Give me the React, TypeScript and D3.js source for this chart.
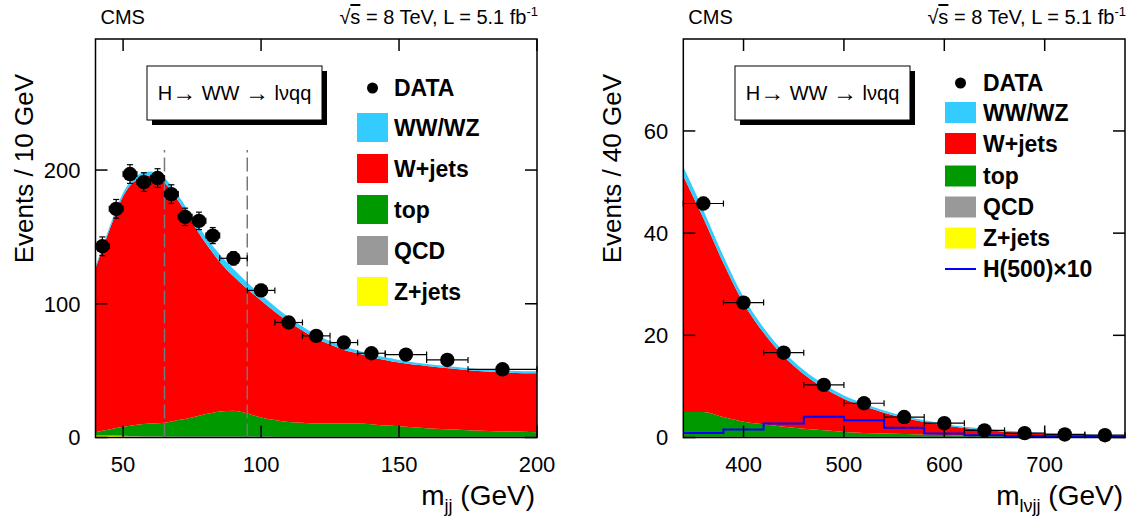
import React from 'react';
import * as d3 from 'd3';

const FONT = "'Liberation Sans', Arial, Helvetica, sans-serif";

// ---------- Left panel: m_jj ----------
const mjjGrid = [40, 45, 50, 55, 60, 65, 70, 75, 80, 85, 90, 95, 100, 105, 110, 115, 120, 125, 130, 135, 140, 145, 150, 160, 170, 180, 190, 200];
const mjjWWWZ = [1.5, 2, 2.5, 3, 3, 3.5, 4, 4.5, 5, 5.5, 5.5, 5, 4.5, 4, 3.5, 3, 3, 2.5, 2.5, 2, 2, 2, 2, 1.5, 1.5, 1.5, 1.5, 1.5];
const mjjWjets = [122.5, 149, 172.5, 183.5, 185.5, 179.5, 164, 145.5, 127.5, 112, 100.5, 93, 87.5, 81, 75, 69, 63.5, 59, 55, 52.5, 50, 49, 47.5, 46.5, 45.5, 44.5, 44, 44];
const mjjTop = [2.5, 4.5, 6.7, 8.4, 9.6, 10.2, 12.3, 14.3, 16.8, 18.8, 19.3, 17.3, 14.3, 12.4, 10.9, 10.4, 9.9, 9.9, 9.9, 9.9, 9.4, 8.4, 7.9, 6.4, 5.4, 4.4, 3.9, 3.4];
const mjjQCD = [0.3, 0.3, 0.3, 0.3, 0.3, 0.3, 0.3, 0.3, 0.3, 0.3, 0.3, 0.3, 0.3, 0.3, 0.3, 0.3, 0.3, 0.3, 0.3, 0.3, 0.3, 0.3, 0.3, 0.3, 0.3, 0.3, 0.3, 0.3];
const mjjZjets = [1.2, 1.2, 1.0, 0.8, 0.6, 0.5, 0.4, 0.4, 0.4, 0.4, 0.4, 0.4, 0.4, 0.3, 0.3, 0.3, 0.3, 0.3, 0.3, 0.3, 0.3, 0.3, 0.3, 0.3, 0.3, 0.3, 0.3, 0.3];

const mjjDataLo = [40, 45, 50, 55, 60, 65, 70, 75, 80, 85, 95, 105, 115, 125, 135, 145, 160, 175];
const mjjDataHi = [45, 50, 55, 60, 65, 70, 75, 80, 85, 95, 105, 115, 125, 135, 145, 160, 175, 200];
const mjjDataVal = [143, 171, 197, 191, 194, 182, 165, 162, 151, 134, 110, 86, 76, 71, 63, 62, 58, 51];
const mjjDataErr = [7, 7, 7, 7, 7, 7, 6.5, 6.5, 6, 5, 4.5, 4, 3.5, 3.5, 3.5, 3, 3, 2.5];
const mjjCuts = [65, 95];
const mjjXTicks = [50, 100, 150, 200];
const mjjYTicks = [0, 100, 200];

// ---------- Right panel: m_lvjj ----------
const mlvjjGrid = [340, 360, 380, 400, 420, 440, 460, 480, 500, 520, 540, 560, 580, 600, 620, 640, 660, 680, 700, 720, 740, 760, 780];
const mlvjjWWWZ = [1.8, 1.6, 1.4, 1.2, 1.0, 0.9, 0.8, 0.7, 0.6, 0.5, 0.45, 0.4, 0.35, 0.3, 0.25, 0.2, 0.2, 0.15, 0.15, 0.1, 0.1, 0.1, 0.1];
const mlvjjWjets = [46.2, 37.9, 30.1, 23.2, 17.9, 13.8, 10.7, 8.3, 6.5, 5.2, 4.05, 3.1, 2.45, 1.9, 1.4, 1.1, 0.8, 0.65, 0.5, 0.45, 0.3, 0.25, 0.2];
const mlvjjTop = [4.85, 4.85, 3.85, 2.95, 2.45, 1.95, 1.55, 1.25, 0.95, 0.75, 0.65, 0.55, 0.45, 0.35, 0.3, 0.25, 0.2, 0.15, 0.1, 0.05, 0.05, 0, 0];
const mlvjjQCD = [0.05, 0.05, 0.05, 0.05, 0.05, 0.05, 0.05, 0.05, 0.05, 0.05, 0.05, 0.05, 0.05, 0.05, 0.05, 0.05, 0.05, 0.05, 0.05, 0.05, 0.05, 0.05, 0.05];
const mlvjjZjets = [0.1, 0.1, 0.1, 0.1, 0.1, 0.1, 0.1, 0.1, 0.1, 0.1, 0.1, 0.1, 0.1, 0.1, 0.1, 0.1, 0.1, 0.1, 0.1, 0.1, 0.1, 0.1, 0.1];

const mlvjjDataCenter = [360, 400, 440, 480, 520, 560, 600, 640, 680, 720, 760];
const mlvjjDataVal = [45.8, 26.4, 16.6, 10.3, 6.7, 4.0, 2.8, 1.4, 0.85, 0.6, 0.45];
const mlvjjDataErr = [1.2, 0.9, 0.7, 0.6, 0.5, 0.4, 0.35, 0.25, 0.2, 0.15, 0.15];
const mlvjjBinHalf = 20;
const higgsEdges = [340, 380, 420, 460, 500, 540, 580, 620, 660, 700, 740, 780];
const higgsVal = [0.9, 1.55, 2.75, 4.05, 3.4, 1.9, 0.8, 0.45, 0.3, 0.2, 0.15];
const mlvjjXTicks = [400, 500, 600, 700];
const mlvjjYTicks = [0, 20, 40, 60];

const legendLabels = ['WW/WZ', 'W+jets', 'top', 'QCD', 'Z+jets'];
const legendKeys = ['wwwz', 'wjets', 'top', 'qcd', 'zjets'];
const COLORS: Record<string, string> = {
  wwwz: '#33ccff',
  wjets: '#ff0000',
  top: '#009900',
  qcd: '#999999',
  zjets: '#ffff00',
};
const STACK_KEYS = ['zjets', 'qcd', 'top', 'wjets', 'wwwz'];

type PanelProps = {
  id: string;
  px0: number; px1: number; py0: number; py1: number;
  xDomain: [number, number]; yMax: number;
  grid: number[];
  comps: Record<string, number[]>;
  dataX: number[]; dataLo: number[]; dataHi: number[]; dataVal: number[]; dataErr: number[];
  xTicks: number[]; yTicks: number[];
  cuts?: number[];
  higgs?: { edges: number[]; vals: number[] };
  yTitle: string;
  xTitleSub: string;
  boxX: number;
  legend: { x: number; textX: number; dataY: number; rows: number[]; swH: number; hY?: number };
};

function Panel(p: PanelProps) {
  const x = d3.scaleLinear().domain(p.xDomain).range([p.px0, p.px1]);
  const y = d3.scaleLinear().domain([0, p.yMax]).range([p.py1, p.py0]);
  const rows = p.grid.map((m, i) => {
    const r: any = { m };
    STACK_KEYS.forEach((k) => (r[k] = p.comps[k][i]));
    return r;
  });
  const series = d3.stack().keys(STACK_KEYS)(rows as any);
  const area = d3
    .area<any>()
    .x((d) => x(d.data.m))
    .y0((d) => y(d[0]))
    .y1((d) => y(d[1]))
    .curve(d3.curveMonotoneX);
  const tickLen = 12;
  const clipId = `clip-${p.id}`;

  let higgsPath = '';
  if (p.higgs) {
    const pts: [number, number][] = [];
    p.higgs.vals.forEach((v, i) => {
      pts.push([x(p.higgs!.edges[i]), y(v)]);
      pts.push([x(p.higgs!.edges[i + 1]), y(v)]);
    });
    higgsPath = d3.line()(pts) || '';
  }

  const lg = p.legend;
  const lgFont = 23;
  return (
    <g>
      <defs>
        <clipPath id={clipId}>
          <rect x={p.px0} y={p.py0} width={p.px1 - p.px0} height={p.py1 - p.py0} />
        </clipPath>
      </defs>
      <g clipPath={`url(#${clipId})`}>
        {series.map((s) => (
          <path key={s.key} d={area(s as any) || ''} fill={COLORS[s.key]} stroke="none" />
        ))}
        {p.cuts &&
          p.cuts.map((c) => (
            <line key={c} x1={x(c)} x2={x(c)} y1={y(0)} y2={y(215)} stroke="#777" strokeWidth={1.5} strokeDasharray="14 5" />
          ))}
        {p.higgs && <path d={higgsPath} fill="none" stroke="#0000ff" strokeWidth={2} />}
      </g>
      {/* ticks */}
      {p.xTicks.map((t) => (
        <g key={'xt' + t}>
          <line x1={x(t)} x2={x(t)} y1={p.py1} y2={p.py1 - tickLen} stroke="#000" strokeWidth={1.5} />
          <line x1={x(t)} x2={x(t)} y1={p.py0} y2={p.py0 + tickLen} stroke="#000" strokeWidth={1.5} />
          <text x={x(t)} y={472} textAnchor="middle" fontSize={22} fontFamily={FONT}>{t}</text>
        </g>
      ))}
      {p.yTicks.map((t) => (
        <g key={'yt' + t}>
          <line x1={p.px0} x2={p.px0 + tickLen} y1={y(t)} y2={y(t)} stroke="#000" strokeWidth={1.5} />
          <line x1={p.px1} x2={p.px1 - tickLen} y1={y(t)} y2={y(t)} stroke="#000" strokeWidth={1.5} />
          <text x={p.px0 - 15} y={y(t)} dy="0.36em" textAnchor="end" fontSize={22} fontFamily={FONT}>{t}</text>
        </g>
      ))}
      <rect x={p.px0} y={p.py0} width={p.px1 - p.px0} height={p.py1 - p.py0} fill="none" stroke="#000" strokeWidth={1.5} />
      {/* data */}
      {p.dataVal.map((v, i) => {
        const cx = x(p.dataX[i]);
        const cy = y(v);
        const xl = x(p.dataLo[i]);
        const xr = x(p.dataHi[i]);
        const yt = y(v + p.dataErr[i]);
        const yb = y(v - p.dataErr[i]);
        return (
          <g key={'d' + i} stroke="#000" strokeWidth={1.2}>
            <line x1={xl} x2={xr} y1={cy} y2={cy} />
            <line x1={xl} x2={xl} y1={cy - 3} y2={cy + 3} />
            <line x1={xr} x2={xr} y1={cy - 3} y2={cy + 3} />
            <line x1={cx} x2={cx} y1={yt} y2={yb} />
            <line x1={cx - 3} x2={cx + 3} y1={yt} y2={yt} />
            <line x1={cx - 3} x2={cx + 3} y1={yb} y2={yb} />
            <circle cx={cx} cy={cy} r={7.2} fill="#000" stroke="none" />
          </g>
        );
      })}
      {/* header text */}
      <text x={p.px0 + 5} y={24} fontSize={20} fontFamily={FONT}>CMS</text>
      <text x={p.px1 + 1} y={24} textAnchor="end" fontSize={20} fontFamily={FONT}>
        <tspan>√</tspan>
        <tspan style={{ textDecoration: 'overline' }}>s</tspan>
        <tspan> = 8 TeV, L = 5.1 fb</tspan>
        <tspan dy={-8} fontSize={13}>-1</tspan>
      </text>
      {/* axis titles */}
      <text
        transform={`translate(${p.px0 - 62.5},74) rotate(-90)`}
        textAnchor="end"
        fontSize={26}
        fontFamily={FONT}
      >
        {p.yTitle}
      </text>
      <text x={p.px1 - 2} y={505} textAnchor="end" fontSize={28} fontFamily={FONT}>
        <tspan>m</tspan>
        <tspan dy={7} fontSize={18}>{p.xTitleSub}</tspan>
        <tspan dy={-7}> (GeV)</tspan>
      </text>
      {/* process box */}
      <rect x={p.boxX + 5} y={71} width={175} height={54} fill="#000" />
      <rect x={p.boxX} y={66} width={175} height={54} fill="#fff" stroke="#000" strokeWidth={1} />
      <text x={p.boxX + 87.5} y={100} textAnchor="middle" fontSize={20} fontFamily={FONT}>
        <tspan>H</tspan>
        <tspan fontSize={24} dy={1}>→</tspan>
        <tspan dy={-1}> WW </tspan>
        <tspan fontSize={24} dy={1}>→</tspan>
        <tspan dy={-1}> lνqq</tspan>
      </text>
      {/* legend */}
      <circle cx={lg.x + 15.5} cy={lg.dataY} r={5.5} fill="#000" />
      <text x={lg.textX} y={lg.dataY + 8} fontSize={lgFont} fontWeight="bold" fontFamily={FONT}>DATA</text>
      {legendKeys.map((k, i) => (
        <g key={k}>
          <rect x={lg.x} y={lg.rows[i] - lg.swH / 2} width={31} height={lg.swH} fill={COLORS[k]} />
          <text x={lg.textX} y={lg.rows[i] + 8} fontSize={lgFont} fontWeight="bold" fontFamily={FONT}>
            {legendLabels[i]}
          </text>
        </g>
      ))}
      {lg.hY !== undefined && (
        <g>
          <line x1={lg.x} x2={lg.x + 31} y1={lg.hY} y2={lg.hY} stroke="#0000ff" strokeWidth={2} />
          <text x={lg.textX} y={lg.hY + 8} fontSize={lgFont} fontWeight="bold" fontFamily={FONT}>H(500)×10</text>
        </g>
      )}
    </g>
  );
}

export default function App() {
  const leftComps = { wwwz: mjjWWWZ, wjets: mjjWjets, top: mjjTop, qcd: mjjQCD, zjets: mjjZjets };
  const rightComps = { wwwz: mlvjjWWWZ, wjets: mlvjjWjets, top: mlvjjTop, qcd: mlvjjQCD, zjets: mlvjjZjets };
  const leftX = mjjDataLo.map((lo, i) => (lo + mjjDataHi[i]) / 2);
  return (
    <svg width={1129} height={522} style={{ position: 'absolute', left: 0, top: 0, background: '#fff' }}>
      <rect x={0} y={0} width={1129} height={522} fill="#fff" />
      <Panel
        id="l"
        px0={95.5} px1={537} py0={39} py1={437.5}
        xDomain={[40, 200]} yMax={298}
        grid={mjjGrid} comps={leftComps}
        dataX={leftX} dataLo={mjjDataLo} dataHi={mjjDataHi} dataVal={mjjDataVal} dataErr={mjjDataErr}
        xTicks={mjjXTicks} yTicks={mjjYTicks}
        cuts={mjjCuts}
        yTitle="Events / 10 GeV"
        xTitleSub="jj"
        boxX={147}
        legend={{ x: 357, textX: 394, dataY: 88, rows: [127.5, 168.5, 209.5, 250.5, 291.5], swH: 29 }}
      />
      <Panel
        id="r"
        px0={683.3} px1={1125} py0={39} py1={437.5}
        xDomain={[340, 780]} yMax={78}
        grid={mlvjjGrid} comps={rightComps}
        dataX={mlvjjDataCenter}
        dataLo={mlvjjDataCenter.map((c) => c - mlvjjBinHalf)}
        dataHi={mlvjjDataCenter.map((c) => c + mlvjjBinHalf)}
        dataVal={mlvjjDataVal} dataErr={mlvjjDataErr}
        xTicks={mlvjjXTicks} yTicks={mlvjjYTicks}
        higgs={{ edges: higgsEdges, vals: higgsVal }}
        yTitle="Events / 40 GeV"
        xTitleSub="lνjj"
        boxX={735}
        legend={{ x: 945, textX: 983, dataY: 83, rows: [112.5, 143.5, 176, 207, 238], swH: 21, hY: 269 }}
      />
    </svg>
  );
}
